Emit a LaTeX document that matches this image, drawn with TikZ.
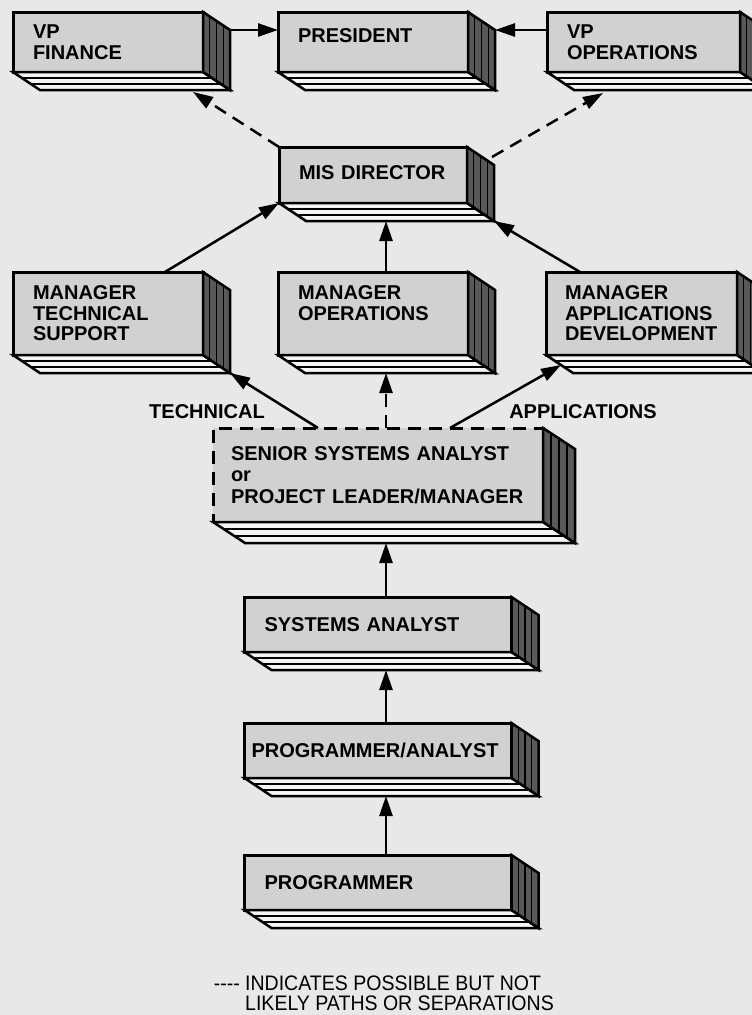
\documentclass[tikz,border=0pt]{standalone}
\usepackage{fontspec}
\setsansfont{Liberation Sans}
\newfontfamily\notefont{Liberation Sans}[FakeStretch=0.93]
\usepackage{tikz}
\usetikzlibrary{arrows.meta,positioning,calc}

\definecolor{paper}{gray}{0.91}
\definecolor{faceg}{gray}{0.82}
\definecolor{sideg}{gray}{0.35}
\definecolor{baseg}{gray}{0.96}

% bottom and right faces of a box, depth given as (dx,dy)
\newcommand{\extrude}[2][27,18]{%
  \filldraw[fill=baseg, line width=2.5pt] (#2.south west) -- (#2.south east) -- ($(#2.south east)+(#1)$) -- ($(#2.south west)+(#1)$) -- cycle;
  \filldraw[fill=sideg, line width=2.5pt] (#2.north east) -- ($(#2.north east)+(#1)$) -- ($(#2.south east)+(#1)$) -- (#2.south east) -- cycle;
  \foreach \k in {0.33,0.67}
    \draw[line width=1.8pt] ($(#2.south west)+\k*(#1)$) -- ($(#2.south east)+\k*(#1)$);
  \foreach \k in {0.25,0.5,0.75}
    \draw[line width=1.4pt] ($(#2.north east)+\k*(#1)$) -- ($(#2.south east)+\k*(#1)$);
}

\begin{document}
\begin{tikzpicture}[x=1pt, y=-1pt,
    slab/.style={draw, fill=faceg, line width=3pt, outer sep=0pt, inner xsep=20pt, inner ysep=3pt,
        align=left, font=\sffamily\bfseries\fontsize{20}{20.5}\selectfont},
    link/.style={line width=2.5pt, -{Triangle[length=20pt,width=13pt]}},
    maybe/.style={link, dash pattern=on 13pt off 8pt},
    tag/.style={font=\sffamily\bfseries\fontsize{20}{20.5}\selectfont, inner sep=0pt}
]
    \useasboundingbox (0,0) rectangle (752,1015);
    \clip (0,0) rectangle (752,1015);
    \fill[paper] (0,0) rectangle (752,1015);

    % Top row
    \node[slab, anchor=north west, text width=150pt, minimum height=60pt, text depth=12pt] (pres) at (278,12) {PRESIDENT};
    \node[slab, left=75pt of pres, text width=150pt, minimum height=60pt] (fin) {VP\\FINANCE};
    \node[slab, right=79pt of pres, text width=153pt, minimum height=60pt] (vpops) {VP\\OPERATIONS};

    % Director
    \node[slab, below=75pt of pres, text width=148pt, minimum height=56pt, text depth=5pt] (mis) {MIS DIRECTOR};

    % Managers
    \node[slab, below=69pt of mis, text width=150pt, minimum height=83pt] (ops) {MANAGER\\OPERATIONS\\~};
    \node[slab, left=75pt of ops, text width=150pt, minimum height=83pt] (tech) {MANAGER\\TECHNICAL\\SUPPORT};
    \node[slab, right=78pt of ops, inner xsep=19pt, text width=153pt, minimum height=83pt] (appdev) {MANAGER\\APPLICATIONS\\DEVELOPMENT};

    % Analyst ladder
    \node[slab, dash pattern=on 13pt off 8pt, below=73pt of ops, xshift=5pt, inner xsep=18pt, text width=294pt, minimum height=94pt] (senior) {SENIOR SYSTEMS ANALYST\\[1pt]or\\[1pt]PROJECT LEADER/MANAGER};
    \node[slab, below=75pt of senior, text width=227pt, minimum height=55pt] (sa) {SYSTEMS ANALYST};
    \node[slab, below=71pt of sa, inner xsep=7pt, text width=253pt, minimum height=55pt] (pa) {PROGRAMMER/ANALYST};
    \node[slab, below=77pt of pa, text width=227pt, minimum height=55pt] (prog) {PROGRAMMER};

    % 3-D sides
    \extrude{fin} \extrude{pres} \extrude{vpops}
    \extrude{mis}
    \extrude{tech} \extrude{ops} \extrude{appdev}
    \extrude[32,21]{senior}
    \extrude{sa} \extrude{pa} \extrude{prog}

    % Reporting lines
    \draw[link] ([shift={(27,18)}]fin.north east) -- ([shift={(0,18)}]pres.north west);
    \draw[link] ([shift={(0,18)}]vpops.north west) -- ([shift={(27,18)}]pres.north east);
    \draw[maybe] (mis.north west) -- ([shift={(-10,20)}]fin.south east);
    \draw[maybe] ([shift={(25,10)}]mis.north east) -- ([shift={(56,21)}]vpops.south west);
    \draw[link] ([xshift=57pt]tech.north) -- (mis.south west);
    \draw[link] ([xshift=13pt]ops.north) -- ([shift={(13,18)}]mis.south);
    \draw[link] ([xshift=34pt]appdev.north west) -- ([shift={(27,18)}]mis.south east);
    \draw[link] ([xshift=105pt]senior.north west) -- ([shift={(27,18)}]tech.south east);
    \draw[maybe] ([xshift=8pt]senior.north) -- ([shift={(13,18)}]ops.south);
    \draw[link] ([xshift=237pt]senior.north west) -- ([shift={(15,10)}]appdev.south west);
    \draw[link] ([xshift=8pt]sa.north) -- ([shift={(8,21)}]senior.south);
    \draw[link] ([xshift=8pt]pa.north) -- ([shift={(8,18)}]sa.south);
    \draw[link] ([xshift=8pt]prog.north) -- ([shift={(8,18)}]pa.south);

    % Path labels
    \node[tag] (techlbl) at (207,412) {TECHNICAL};
    \node[tag] (appslbl) at (583,412) {APPLICATIONS};

    % Legend
    \node[anchor=north west, inner sep=0pt, align=left, font=\notefont\fontsize{21}{20}\selectfont] (note) at (245,976)
        {\llap{-\kern0pt-\kern0pt-\kern0pt-\ }INDICATES POSSIBLE BUT NOT\\LIKELY PATHS OR SEPARATIONS};
\end{tikzpicture}
\end{document}
